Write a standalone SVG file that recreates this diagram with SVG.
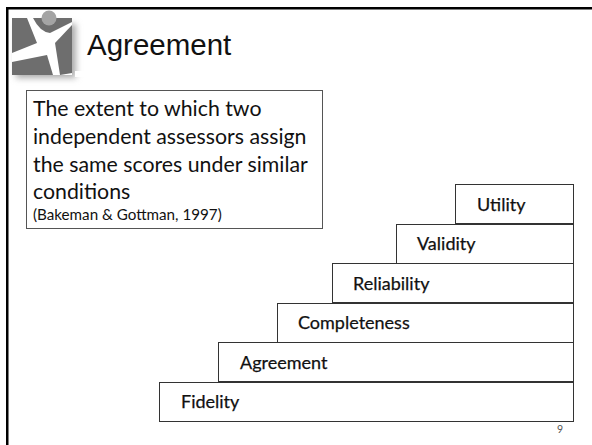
<svg xmlns="http://www.w3.org/2000/svg" width="592" height="445" viewBox="0 0 592 445">
<style>
.b{fill:#fff;stroke:#333;stroke-width:1}
.l{font-family:Lato,"Liberation Sans",sans-serif;font-size:18px;fill:#111;stroke:#111;stroke-width:.25}
.d{font-family:Lato,"Liberation Sans",sans-serif;font-size:21.300px;fill:#111}
</style>
<defs>
<filter id="s" x="-20%" y="-20%" width="140%" height="140%"><feGaussianBlur stdDeviation="3"/></filter>
</defs>
<rect width="592" height="445" fill="#fff"/>
<rect x="6" y="7" width="586" height="2.500" fill="#000"/>
<rect x="6" y="7" width="2.500" height="438" fill="#000"/>
<g id="logo">
<rect x="16" y="24" width="60" height="54" fill="#aaa" filter="url(#s)"/>
<rect x="12" y="18" width="60" height="57" fill="#fff"/>
<path d="M12 18H27L37 43L12 53Z" fill="#6e6e6e"/>
<path d="M33 18H72V22L50 33Q40 32 33 18Z" fill="#6e6e6e"/>
<path d="M72 25V73L60 75L55 43Z" fill="#6e6e6e"/>
<path d="M12 62L47 55L53 75H12Z" fill="#6e6e6e"/>
<circle cx="49" cy="18" r="7.500" fill="#a4a4a4"/>
<rect x="75" y="71" width="9" height="6" fill="#fff"/>
</g>
<text id="title" x="87" y="55" font-family="'Liberation Sans',Arial,sans-serif" font-size="29.500" fill="#111">Agreement</text>
<g id="definition">
<rect class="b" x="26.500" y="90.500" width="296" height="138" style="stroke:#555"/>
<text class="d" x="33" y="116">The extent to which two</text>
<text class="d" x="33" y="144">independent assessors assign</text>
<text class="d" x="33" y="172">the same scores under similar</text>
<text class="d" x="33" y="199">conditions</text>
<text x="33" y="220" font-family="Lato,'Liberation Sans',sans-serif" font-size="15.200" fill="#111">(Bakeman &amp; Gottman, 1997)</text>
</g>
<g id="utility"><rect class="b" x="455.500" y="184.500" width="118" height="39"/><text class="l" x="477" y="211">Utility</text></g>
<g id="validity"><rect class="b" x="396.500" y="224.500" width="177" height="39"/><text class="l" x="417" y="250">Validity</text></g>
<g id="reliability"><rect class="b" x="332.500" y="263.500" width="241" height="39"/><text class="l" x="353" y="290">Reliability</text></g>
<g id="completeness"><rect class="b" x="277.500" y="303.500" width="296" height="39"/><text class="l" x="298" y="329">Completeness</text></g>
<g id="agreement"><rect class="b" x="218.500" y="342.500" width="355" height="39"/><text class="l" x="240" y="369">Agreement</text></g>
<g id="fidelity"><rect class="b" x="159.500" y="382.500" width="414" height="39"/><text class="l" x="181" y="408">Fidelity</text></g>
<text id="page" x="557" y="433" font-family="Lato,'Liberation Sans',sans-serif" font-size="10.500" fill="#555">9</text>
</svg>
